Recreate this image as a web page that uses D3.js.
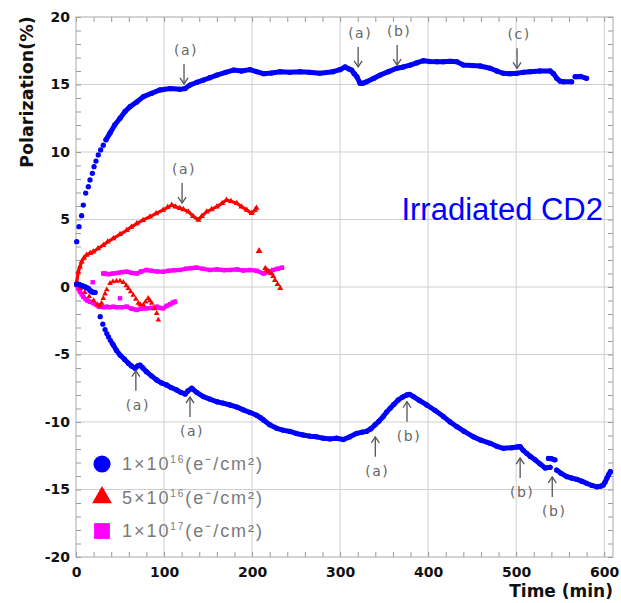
<!DOCTYPE html>
<html>
<head>
<meta charset="utf-8">
<script src="https://cdn.jsdelivr.net/npm/d3@7"></script>
<style>
  html, body { margin: 0; padding: 0; background: #fff; }
  svg { display: block; }
</style>
</head>
<body>
<svg id="chart" width="621" height="603"></svg>
<script>
// ---------------- DATA ----------------
const xTicks = [0, 100, 200, 300, 400, 500, 600];
const yTicks = [-20, -15, -10, -5, 0, 5, 10, 15, 20];

// 1x10^16 (blue) – upper branch: steep start (separate dots) and dense band
const blueUpStart = [[0.8,3.36],[3.4,4.47],[6.4,5.28],[8.3,6.07],[11,6.96],[14,7.43],[15.9,7.93],[18.6,8.42],[20.5,8.91],[22.7,9.33],[25.3,9.78],[28,10.15],[31,10.5]];
const blueUp = [[34,10.9],[38.6,11.4],[44,12.0],[50,12.5],[55.7,13.0],[61.4,13.36],[69,13.7],[76.5,14.1],[86,14.35],[95.5,14.6],[107,14.7],[118,14.64],[124,14.7],[129.5,14.96],[137,15.15],[144.7,15.33],[152,15.5],[160,15.7],[170,15.9],[178.8,16.07],[188,16.0],[197.7,16.1],[205,15.95],[213,15.8],[222,15.85],[232,15.95],[243,15.9],[254.5,15.95],[265,15.9],[277,15.83],[292,15.95],[300,16.1],[305.7,16.3],[310,16.15],[313,16.07],[316,15.8],[319,15.58],[322.7,15.09],[326,15.1],[330,15.2],[338,15.45],[345.5,15.7],[355,15.95],[364.4,16.2],[372,16.3],[379.5,16.44],[387,16.6],[394.7,16.76],[402,16.7],[410,16.69],[417.4,16.69],[425,16.72],[432.6,16.69],[440,16.44],[450,16.4],[459,16.37],[470.5,16.2],[478,16.0],[485.6,15.83],[493,15.8],[500.8,15.83],[508,15.9],[516,15.95],[527,16.0],[538.6,16.0],[542.4,15.8],[546,15.46],[550,15.25],[553.8,15.2],[563,15.2],null,[567,15.58],[573,15.6],[580,15.46]];
// blue lower branch
const blueLowStart = [[27.5,-2.2],[30.5,-2.75],[33,-3.15],[35,-3.45],[37,-3.7],[39,-3.95],[41,-4.15]];
const blueLow = [[0.8,0.2],[3,0.2],[4.5,0.15],[7,0.1],[10,0.02],[12,-0.05],[14,-0.1],[16,-0.25],[17.8,-0.35],[20,-0.4],[21.6,-0.4],null,[42.4,-4.3],[46,-4.7],[50,-5.04],[55,-5.35],[59.5,-5.65],[63,-5.85],[67,-6.02],[70,-5.85],[72.7,-5.78],[76,-6.0],[80,-6.27],[86,-6.6],[91.7,-6.89],[97,-7.1],[103,-7.26],[108,-7.45],[114.4,-7.63],[119,-7.8],[124,-7.93],[127,-7.7],[131.5,-7.5],[137,-7.8],[144.7,-8.12],[152,-8.3],[160,-8.5],[167,-8.6],[175,-8.74],[183,-8.9],[190,-9.1],[198,-9.3],[205,-9.5],[210,-9.7],[213,-9.85],[220,-10.2],[228,-10.47],[235,-10.6],[243,-10.7],[250,-10.85],[258,-10.96],[266,-11.05],[273.5,-11.1],[281,-11.2],[288.6,-11.25],[296,-11.2],[303.7,-11.3],[311,-11.1],[319,-10.84],[325,-10.75],[330,-10.7],[335,-10.5],[339.8,-10.2],[344,-9.95],[349,-9.6],[353,-9.25],[356.8,-8.99],[361,-8.7],[366,-8.37],[371,-8.15],[375.8,-8.0],[379,-7.95],[383.3,-8.12],[390,-8.4],[398.5,-8.74],[408,-9.15],[417.4,-9.6],[425,-10.0],[432.6,-10.35],[441,-10.7],[451.5,-11.1],[460,-11.35],[470.5,-11.58],[478,-11.8],[485.6,-11.95],[495,-11.9],[501,-11.85],[504.5,-11.83],[508,-12.1],[512,-12.32],[516,-12.55],[521.6,-12.8],[527,-13.1],[533,-13.4],[538.6,-13.36],null,[536.7,-12.7],[540,-12.72],[544,-12.8],null,[546,-13.56],[551,-13.8],[557.6,-14.05],[563,-14.15],[569,-14.25],[575,-14.4],[580,-14.54],[586,-14.7],[591.7,-14.8],[596,-14.75],[599,-14.67],[601,-14.45],[603,-14.17],[605,-13.9],[607,-13.68]];

// 5x10^16 (red)
const redUp = [[0.8,0.39],[2.6,1.13],[4.5,1.5],[6.4,1.87],[9,2.15],[12,2.37],[16,2.5],[19.7,2.61],[25,2.85],[31,3.1],[36,3.35],[42.4,3.6],[50,3.9],[57.6,4.2],[63,4.45],[69,4.7],[76,4.95],[84,5.2],[91,5.45],[99,5.7],[104,5.9],[108.7,6.07],[113,5.95],[118,5.83],[122,5.75],[127.6,5.58],[133,5.25],[139,4.96],[143,5.25],[148.5,5.58],[154,5.75],[160,5.95],[166,6.2],[171,6.44],[176,6.35],[182.6,6.2],[188,5.95],[194,5.7],[199.6,5.46],[203.4,5.7],[205,5.85]];
const redIsolated = [[208,2.67]];
const redTail = [[215,1.38],[216.7,1.26],[219,1.15],[222,1.0],[224,0.8],[226,0.5],[229,0.2],[232,-0.1]];
const redLow = [[0.8,0.15],[5,-0.1],[10,-0.4],[15,-0.7],[20,-1.0],[24,-1.3],[27,-1.4],[29,-1.2],[31,-0.84],[33,-0.5],[35,-0.2],[38.6,0.27],[42,0.4],[46,0.44],[50,0.45],[53.8,0.35],[57,0.1],[59.5,-0.1],[62,-0.35],[65,-0.6],[68,-0.9],[70.8,-1.2],[73,-1.3],[76.5,-1.33],[79,-1.1],[82,-0.84],[84,-1.0],[86,-1.2],[89,-1.6],[91.7,-1.95],[93.5,-2.44]];

// 1x10^17 (magenta)
const magUp = [[31,1.0],[33,1.0],[37,0.95],[42,1.0],[48,1.05],[52,1.1],[57.6,1.13],[63,1.05],[69,1.0],[74,1.15],[80,1.26],[86,1.2],[92,1.15],[99,1.13],[105,1.2],[112,1.25],[118,1.26],[125,1.35],[131,1.4],[137,1.43],[144,1.35],[152,1.26],[160,1.3],[168,1.25],[175,1.26],[183,1.3],[190,1.22],[197.7,1.26],[205,1.2],[213,1.0],[218,1.1],[224,1.26],[229,1.35],[234,1.43]];
const magLow = [[0.8,0.15],[2.5,-0.1],[4.5,-0.35],[6.5,-0.55],[8.3,-0.72],[11,-0.9],[13,-1.0],[16,-1.09],[20,-1.2],[23.5,-1.33],[26,-1.45],[29,-1.46],[32,-1.5],[35,-1.46],[38,-1.5],[42.4,-1.46],[46,-1.5],[52,-1.5],[57.6,-1.46],[63,-1.6],[69,-1.7],[74,-1.6],[80,-1.58],[86,-1.55],[91.7,-1.46],[95,-1.55],[99,-1.58],[103,-1.4],[107,-1.28],[110,-1.15],[112.5,-1.09]];
const magIsolated = [[19,0.35],[50,-0.84]];

// annotations: time, polarization of arrow tip, direction, label
const annotations = [
  {t:122.7, p:15.04, dir:"down", label:"(a)"},
  {t:120.5, p:6.22, dir:"down", label:"(a)"},
  {t:320.5, p:16.3, dir:"down", label:"(a)"},
  {t:364.8, p:16.44, dir:"down", label:"(b)"},
  {t:501, p:16.2, dir:"down", label:"(c)"},
  {t:68, p:-6.2, dir:"up", label:"(a)"},
  {t:129.5, p:-8.15, dir:"up", label:"(a)"},
  {t:340, p:-11.1, dir:"up", label:"(a)"},
  {t:376, p:-8.5, dir:"up", label:"(b)"},
  {t:504.5, p:-12.67, dir:"up", label:"(b)"},
  {t:541, p:-14.07, dir:"up", label:"(b)"}
];

const legendItems = [
  {shape:"circle", color:"#0000ff", mant:"1×10", exp:"16"},
  {shape:"triangle", color:"#ff0000", mant:"5×10", exp:"16"},
  {shape:"square", color:"#ff00ff", mant:"1×10", exp:"17"}
];

// ---------------- CHART ----------------
const svg = d3.select("#chart");
const L = 76, R = 613, T = 17, B = 557;
const x = d3.scaleLinear().domain([0, 610]).range([L, R]);
const y = d3.scaleLinear().domain([-20, 20]).range([B, T]);

// grid
const grid = svg.append("g").attr("stroke", "#cfcfcf").attr("stroke-width", 1);
xTicks.filter(v => v > 0).forEach(v => {
  grid.append("line").attr("x1", x(v)).attr("x2", x(v)).attr("y1", T).attr("y2", B);
});
yTicks.filter(v => v > -20 && v < 20).forEach(v => {
  grid.append("line").attr("x1", L).attr("x2", R).attr("y1", y(v)).attr("y2", y(v));
});

// minor ticks
const xMinor = d3.range(0, 611, 20);
const yMinor = d3.range(-20, 20.5, 1);
function tickAxis(axis, tr) {
  const g = svg.append("g").attr("transform", tr).call(axis);
  g.select(".domain").remove();
  g.selectAll("line").attr("stroke", "#999");
  g.selectAll("text").remove();
  return g;
}
tickAxis(d3.axisBottom(x).tickValues(xMinor).tickSize(-5), `translate(0,${B})`);
tickAxis(d3.axisTop(x).tickValues(xMinor).tickSize(-5), `translate(0,${T})`);
tickAxis(d3.axisLeft(y).tickValues(yMinor).tickSize(-5), `translate(${L},0)`);
tickAxis(d3.axisRight(y).tickValues(yMinor).tickSize(-5), `translate(${R},0)`);

// frame
svg.append("rect").attr("x", L).attr("y", T).attr("width", R - L).attr("height", B - T)
  .attr("fill", "none").attr("stroke", "#a8a8a8").attr("stroke-width", 1);

// tick labels (plain hyphen minus as in the original)
const fmt = d => String(d);
const xLab = svg.append("g").attr("transform", `translate(0,${B})`)
  .call(d3.axisBottom(x).tickValues(xTicks).tickFormat(fmt).tickSize(0).tickPadding(10));
const yLab = svg.append("g").attr("transform", `translate(${L},0)`)
  .call(d3.axisLeft(y).tickValues(yTicks).tickFormat(fmt).tickSize(0).tickPadding(6));
[xLab, yLab].forEach(g => {
  g.select(".domain").remove();
  g.selectAll("text").attr("font-family", "DejaVu Sans").attr("font-weight", "bold")
    .attr("font-size", 14).attr("fill", "#111");
});

// axis titles
svg.append("text").attr("transform", "translate(33,92) rotate(-90)")
  .attr("text-anchor", "middle").attr("font-family", "DejaVu Sans").attr("font-weight", "bold")
  .attr("font-size", 17.5).attr("fill", "#111").text("Polarization(%)");
svg.append("text").attr("x", 613).attr("y", 597).attr("text-anchor", "end")
  .attr("font-family", "DejaVu Sans").attr("font-weight", "bold").attr("font-size", 17)
  .attr("fill", "#111").text("Time (min)");

// series
const line = d3.line().defined(d => d !== null).x(d => x(d[0])).y(d => y(d[1]));
function band(data, color, w) {
  svg.append("path").datum(data).attr("d", line).attr("fill", "none")
    .attr("stroke", color).attr("stroke-width", w)
    .attr("stroke-linejoin", "round").attr("stroke-linecap", "round");
}
function markers(data, color, type, size) {
  svg.append("g").selectAll("path").data(data.filter(d => d !== null)).join("path")
    .attr("transform", d => `translate(${x(d[0])},${y(d[1])})`)
    .attr("d", d3.symbol().type(type).size(size)).attr("fill", color);
}
// magenta
band(magUp, "#ff00ff", 4.2); markers(magUp, "#ff00ff", d3.symbolSquare, 20);
band(magLow, "#ff00ff", 4.2); markers(magLow, "#ff00ff", d3.symbolSquare, 20);
markers(magIsolated, "#ff00ff", d3.symbolSquare, 20);
// red
band(redUp, "#ff0000", 3.2); markers(redUp, "#ff0000", d3.symbolTriangle, 16);
markers(redIsolated, "#ff0000", d3.symbolTriangle, 20);
markers(redTail, "#ff0000", d3.symbolTriangle, 16);
markers(redLow, "#ff0000", d3.symbolTriangle, 14);
// blue
markers(blueUpStart, "#0000ff", d3.symbolCircle, 22);
band(blueUp, "#0000ff", 5); markers(blueUp, "#0000ff", d3.symbolCircle, 22);
markers(blueLowStart, "#0000ff", d3.symbolCircle, 22);
band(blueLow, "#0000ff", 5); markers(blueLow, "#0000ff", d3.symbolCircle, 22);

// annotations
const ann = svg.append("g");
annotations.forEach(a => {
  const px = x(a.t), py = y(a.p);
  const s = a.dir === "down" ? -1 : 1;
  const tail = py + s * 20;
  const g = ann.append("g").attr("stroke", "#555").attr("stroke-width", 1.3).attr("fill", "none");
  g.append("line").attr("x1", px).attr("x2", px).attr("y1", tail).attr("y2", py);
  g.append("path").attr("d", `M${px - 4},${py + s * 6}L${px},${py}L${px + 4},${py + s * 6}`);
  ann.append("text").attr("x", px + 2).attr("y", py + s * 34).attr("dy", "0.35em")
    .attr("text-anchor", "middle").attr("font-family", "DejaVu Sans").attr("font-size", 14)
    .attr("letter-spacing", 1.5).attr("fill", "#666").text(a.label);
});

// label
svg.append("text").attr("x", 603).attr("y", 220).attr("text-anchor", "end")
  .attr("font-family", "Liberation Sans, Arial, sans-serif").attr("font-size", 31)
  .attr("fill", "#0000ff").text("Irradiated CD2");

// legend
const lg = svg.append("g");
legendItems.forEach((it, i) => {
  const cy = 464 + i * 33.5;
  const sym = it.shape === "circle" ? d3.symbolCircle : it.shape === "triangle" ? d3.symbolTriangle : d3.symbolSquare;
  const size = it.shape === "circle" ? 230 : it.shape === "triangle" ? 170 : 250;
  lg.append("path").attr("transform", `translate(102,${cy})`)
    .attr("d", d3.symbol().type(sym).size(size)).attr("fill", it.color);
  const t = lg.append("text").attr("x", 122).attr("y", cy + 6)
    .attr("font-family", "Liberation Sans, Arial, sans-serif").attr("font-size", 18)
    .attr("fill", "#7a7a7a");
  t.append("tspan").text(it.mant);
  t.append("tspan").attr("dy", -7).attr("font-size", 10).text(it.exp);
  t.append("tspan").attr("dy", 7).text("(e⁻/cm²)");
  t.attr("textLength", 140).attr("lengthAdjust", "spacing");
});
</script>
</body>
</html>
